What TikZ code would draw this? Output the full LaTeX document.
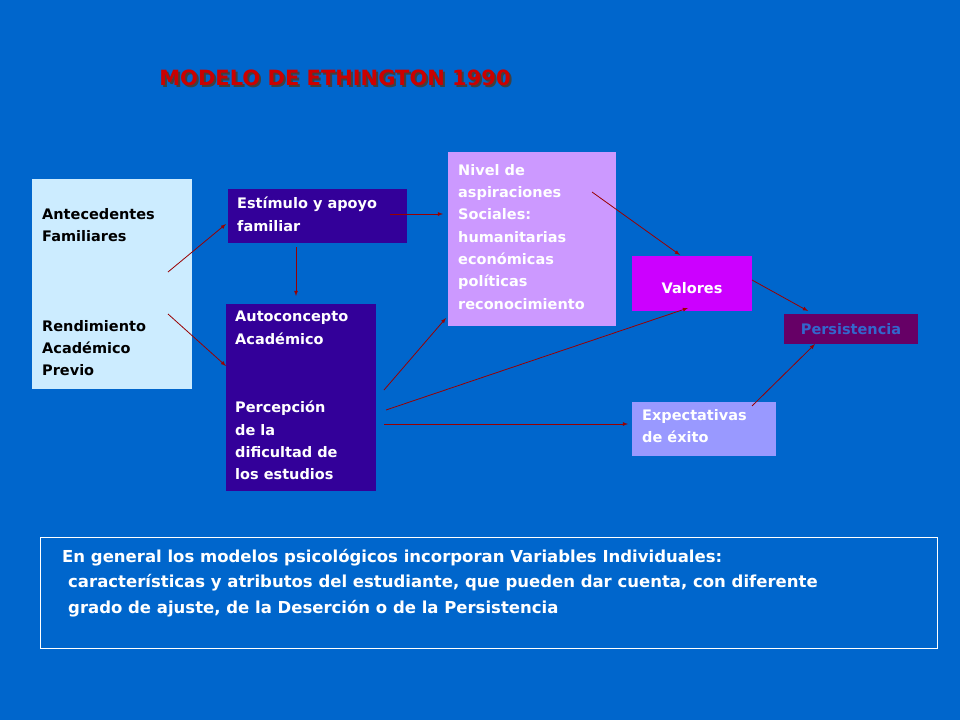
\documentclass[tikz,border=0pt]{standalone}
\usepackage{fontspec}
\setmainfont{DejaVu Sans}
\tikzset{>=latex}
\definecolor{bg}{HTML}{0066CC}
\definecolor{navy}{HTML}{330099}
\definecolor{lila}{HTML}{CC99FF}
\definecolor{magenta}{HTML}{CC00FF}
\definecolor{plum}{HTML}{660066}
\definecolor{peri}{HTML}{9999FF}
\definecolor{cyanlt}{HTML}{CCECFF}
\definecolor{arrowred}{HTML}{990000}
\tikzset{
  box/.style={anchor=north west,inner sep=0pt,font=\bfseries\fontsize{14.5}{22.3}\selectfont,align=left},
  link/.style={->,thick,arrowred}
}
\begin{document}
\begin{tikzpicture}[x=1pt,y=-1pt]
  % background
  \fill[bg] (0,0) rectangle (960,720);
  \useasboundingbox (0,0) rectangle (960,720);
  % title
  \node[font=\bfseries\fontsize{21}{24}\selectfont,text=black!75] at (337,80) {MODELO DE ETHINGTON 1990};
  \node (title) [font=\bfseries\fontsize{21}{24}\selectfont,text={rgb,255:red,204;green,0;blue,0}] at (335,78) {MODELO DE ETHINGTON 1990};
  % boxes
  \fill[cyanlt] (32,179) rectangle (192,389);
  \node (ant) [box,text=black] at (42,208) {Antecedentes\\Familiares};
  \node (ren) [box,text=black] at (42,320) {Rendimiento\\Académico\\Previo};
  \fill[navy] (228,189) rectangle (407,243);
  \node (est) [box,text=white] at (237,197) {Estímulo y apoyo\\familiar};
  \fill[navy] (226,304) rectangle (376,491);
  \node (auto) [box,text=white] at (235,311) {Autoconcepto\\Académico};
  \node (perc) [box,text=white] at (235,401) {Percepción\\de la\\dificultad de\\los estudios};
  \fill[lila] (448,152) rectangle (616,326);
  \node (niv) [box,text=white] at (458,164) {Nivel de\\aspiraciones\\Sociales:\\humanitarias\\económicas\\políticas\\reconocimiento};
  \fill[magenta] (632,256) rectangle (752,311);
  \node (val) [font=\bfseries\fontsize{14.5}{16}\selectfont,text=white] at (692,288) {Valores};
  \fill[plum] (784,314) rectangle (918,344);
  \node (per) [font=\bfseries\fontsize{14.5}{16}\selectfont,text={rgb,255:red,51;green,102;blue,204}] at (851,329) {Persistencia};
  \fill[peri] (632,402) rectangle (776,456);
  \node (exp) [box,text=white] at (642,409) {Expectativas\\de éxito};
  % connectors
  \coordinate (a1) at (168,272); \coordinate (b1) at (226,224);
  \coordinate (a2) at (168,314); \coordinate (b2) at (226,366);
  \coordinate (a3) at (296,247); \coordinate (b3) at (296,296);
  \coordinate (a4) at (390,214); \coordinate (b4) at (443,214);
  \coordinate (a5) at (384,390); \coordinate (b5) at (446,318);
  \coordinate (a6) at (386,410); \coordinate (b6) at (688,308);
  \coordinate (a7) at (384,424); \coordinate (b7) at (628,424);
  \coordinate (a8) at (592,192); \coordinate (b8) at (680,255);
  \coordinate (a9) at (752,280); \coordinate (b9) at (808,311);
  \coordinate (a10) at (752,406); \coordinate (b10) at (815,344);
  \foreach \i in {1,...,10}
    \draw[link] (a\i) -- (b\i);
  % note
  \draw[white] (40,537) rectangle (937,648);
  \node (note) [box,text=white,font=\bfseries\fontsize{16.5}{25.5}\selectfont] at (62,549)
    {En general los modelos psicológicos incorporan Variables Individuales:\\
     \hspace*{6pt}características y atributos del estudiante, que pueden dar cuenta, con diferente\\
     \hspace*{6pt}grado de ajuste, de la Deserción o de la Persistencia};
\end{tikzpicture}
\end{document}
